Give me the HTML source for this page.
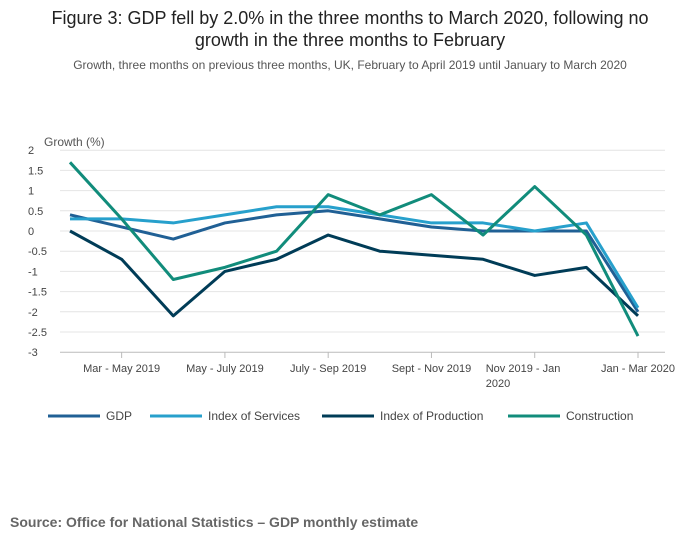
<!DOCTYPE html>
<html><head><meta charset="utf-8"><style>
body{margin:0;background:#fff;font-family:"Liberation Sans",sans-serif;}
svg text{font-family:"Liberation Sans",sans-serif;}
</style></head><body>
<svg id="chart" width="700" height="549">
<text x="350" y="24" text-anchor="middle" font-size="18" fill="#222">Figure 3: GDP fell by 2.0% in the three months to March 2020, following no</text>
<text x="350" y="46" text-anchor="middle" font-size="18" fill="#222">growth in the three months to February</text>
<text x="350" y="69" text-anchor="middle" font-size="12" fill="#555">Growth, three months on previous three months, UK, February to April 2019 until January to March 2020</text>
<text x="44" y="146" font-size="12" fill="#555">Growth (%)</text>
<g id="grid"></g><g id="series"></g><g id="xaxis"></g>
<g id="legend"></g>
<text x="10" y="527" font-size="14" font-weight="bold" fill="#666">Source: Office for National Statistics – GDP monthly estimate</text>
</svg>
<script>
const categories=["Feb - Apr 2019","Mar - May 2019","Apr - Jun 2019","May - July 2019","Jun - Aug 2019","July - Sep 2019","Aug - Oct 2019","Sept - Nov 2019","Oct - Dec 2019","Nov 2019 - Jan 2020","Dec 2019 - Feb 2020","Jan - Mar 2020"];
const gdp=[0.4,0.1,-0.2,0.2,0.4,0.5,0.3,0.1,0.0,0.0,0.0,-2.0];
const services=[0.3,0.3,0.2,0.4,0.6,0.6,0.4,0.2,0.2,0.0,0.2,-1.9];
const production=[0.0,-0.7,-2.1,-1.0,-0.7,-0.1,-0.5,-0.6,-0.7,-1.1,-0.9,-2.1];
const construction=[1.7,0.3,-1.2,-0.9,-0.5,0.9,0.4,0.9,-0.1,1.1,-0.1,-2.6];
const yTicks=[2,1.5,1,0.5,0,-0.5,-1,-1.5,-2,-2.5,-3];
const xLabelIdx=[1,3,5,7,9,11];
const seriesNames=["GDP","Index of Services","Index of Production","Construction"];
const NS="http://www.w3.org/2000/svg";
function X(i){return 70+i*(568/11);}
function Y(v){return 231-v*40.4;}
function mk(t,a,p){const e=document.createElementNS(NS,t);for(const k in a)e.setAttribute(k,a[k]);p.appendChild(e);return e;}
const grid=document.getElementById('grid');
yTicks.forEach(v=>{
  const l=mk('line',{x1:60,x2:665,y1:Y(v),y2:Y(v),stroke:v===-3?'#bbb':'#e4e4e4','stroke-width':1},grid);
  
  
  const t=mk('text',{x:28,y:Y(v)+4,'font-size':11,fill:'#444'},grid);t.textContent=v;
  
  
});
const xa=document.getElementById('xaxis');
xLabelIdx.forEach(i=>{
  const tk=mk('line',{x1:X(i),x2:X(i),y1:352,y2:358,stroke:'#bbb'},xa);
  
  
  const lab=categories[i];
  if(lab==="Nov 2019 - Jan 2020"){
    const t=mk('text',{x:X(i)-49,y:372,'font-size':11,fill:'#444'},xa);t.textContent="Nov 2019 - Jan";
    
    
    const t2=mk('text',{x:X(i)-49,y:387,'font-size':11,fill:'#444'},xa);t2.textContent="2020";
    
    
  } else {
    const t=mk('text',{x:X(i),y:372,'font-size':11,fill:'#444','text-anchor':'middle'},xa);t.textContent=lab;
    
    
  }
});
const colors=["#206095","#27a0cc","#003c57","#118c7b"];
const data=[gdp,services,production,construction];
const sg=document.getElementById('series');
data.forEach((d,k)=>{
  const p=mk('polyline',{points:d.map((v,i)=>X(i)+','+Y(v)).join(' '),fill:'none',stroke:colors[k],'stroke-width':3,'stroke-linejoin':'round'},sg);
  
  
});
const lg=document.getElementById('legend');
const lx=[48,150,322,508];
seriesNames.forEach((n,k)=>{
  const l=mk('line',{x1:lx[k],x2:lx[k]+52,y1:416,y2:416,stroke:colors[k],'stroke-width':3},lg);
  
  
  const t=mk('text',{x:lx[k]+58,y:420,'font-size':12,fill:'#444'},lg);t.textContent=n;
  
  
});
</script>
</body></html>
